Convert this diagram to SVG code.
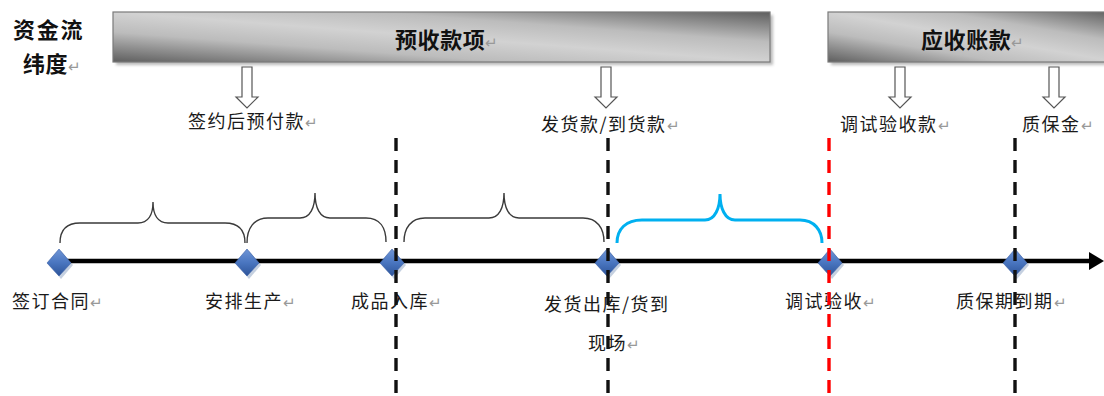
<svg xmlns="http://www.w3.org/2000/svg" width="1104" height="396" viewBox="0 0 1104 396">
<style>
.t{font-family:"Noto Sans CJK SC","Liberation Sans",sans-serif;font-size:18px;fill:#1a1a1a;letter-spacing:1.5px}
.b{font-family:"Noto Sans CJK SC","Liberation Sans",sans-serif;font-size:22px;font-weight:bold;fill:#111;letter-spacing:0.6px}
.m{fill:#999;font-weight:normal;font-size:15px;letter-spacing:0}
.box{fill:url(#g);stroke:#7a7a7a;stroke-width:1.2}
.sh{fill:#bbb;filter:url(#blur)}
.ha{fill:#fff;stroke:#555;stroke-width:1.2}
.br{fill:none;stroke:#3a3a3a;stroke-width:1.4}
.dash{stroke-width:3.4;stroke-dasharray:13 9;fill:none}
.dm{fill:url(#dg);stroke:#3d62a8;stroke-width:0.6}
</style>
<defs>
<linearGradient id="g" x1="0" y1="1" x2="1" y2="0">
<stop offset="0" stop-color="#5e5e5e"/>
<stop offset="0.3" stop-color="#bcbcbc"/>
<stop offset="0.5" stop-color="#d2d2d2"/>
<stop offset="0.7" stop-color="#bcbcbc"/>
<stop offset="1" stop-color="#5e5e5e"/>
</linearGradient>
<linearGradient id="dg" x1="0" y1="0" x2="0" y2="1">
<stop offset="0" stop-color="#6f95d6"/>
<stop offset="0.5" stop-color="#4a76c0"/>
<stop offset="1" stop-color="#2d5499"/>
</linearGradient>
<filter id="blur" x="-5%" y="-20%" width="110%" height="140%"><feGaussianBlur stdDeviation="1.5"/></filter>
</defs>
<rect width="1104" height="396" fill="#fff"/>

<g id="title">
<text class="b" x="13" y="38" style="letter-spacing:1.8px">资金流</text>
<text class="b" x="23" y="72">纬度<tspan class="m">↵</tspan></text>
</g>

<g id="box-prepaid">
<rect class="sh" x="116" y="15" width="657" height="50"/>
<rect class="box" x="113" y="12" width="657" height="50"/>
<text class="b" x="395" y="48">预收款项<tspan class="m">↵</tspan></text>
</g>
<g id="box-receivable">
<rect class="sh" x="831" y="15" width="290" height="50"/>
<rect class="box" x="828" y="12" width="290" height="50"/>
<text class="b" x="921" y="48">应收账款<tspan class="m">↵</tspan></text>
</g>

<g id="payment-labels">
<text class="t" x="188" y="128">签约后预付款<tspan class="m">↵</tspan></text>
<text class="t" x="541" y="131">发货款/到货款<tspan class="m">↵</tspan></text>
<text class="t" x="840" y="131">调试验收款<tspan class="m">↵</tspan></text>
<text class="t" x="1022" y="131">质保金<tspan class="m">↵</tspan></text>
</g>

<g id="connectors">
<path class="ha" d="M242,67 H252 V97 H258 L247,108 L236,97 H242 Z"/>
<path class="ha" d="M601,67 H611 V97 H617 L606,108 L595,97 H601 Z"/>
<path class="ha" d="M895,67 H905 V97 H911 L900,108 L889,97 H895 Z"/>
<path class="ha" d="M1049,67 H1059 V97 H1065 L1054,108 L1043,97 H1049 Z"/>

<line x1="55" y1="261" x2="1091" y2="261" stroke="#000" stroke-width="4.5"/>
<polygon points="1089,252 1104,261 1089,270" fill="#000"/>

<path class="br" d="M60,243 C60,231 66,223 80,223 L138,223 C148,223 153,215 153,202 C153,215 158,223 168,223 L225,223 C239,223 245,231 245,243"/>
<path class="br" d="M247,243 C247,228 254,218 268,218 L300,218 C310,218 315,208 315,193 C315,208 320,218 330,218 L366,218 C380,218 386,228 386,242"/>
<path class="br" d="M404,242 C404,228 411,218 425,218 L489,218 C499,218 504,208 504,193 C504,208 509,218 519,218 L583,218 C597,218 604,228 604,242"/>
<path fill="none" stroke="#00b0f0" stroke-width="3" d="M617,243 C617,229 626,220 642,220 L705,220 C715,220 720,208 720,194 C720,208 725,220 735,220 L800,220 C814,220 822,230 822,243"/>
</g>

<g id="n-sign">
<path d="M61,251 L73,265 L61,279 L49,265 Z" fill="#9fb0cc" opacity="0.6"/>
<path class="dm" d="M59,249 L71,263 L59,276 L47,263 Z"/>
<text class="t" x="12" y="308">签订合同<tspan class="m">↵</tspan></text>
</g>
<g id="n-produce">
<path d="M249,251 L261,265 L249,279 L237,265 Z" fill="#9fb0cc" opacity="0.6"/>
<path class="dm" d="M247,249 L259,263 L247,276 L235,263 Z"/>
<text class="t" x="205" y="308">安排生产<tspan class="m">↵</tspan></text>
</g>
<g id="n-stock">
<path d="M394,251 L406,265 L394,279 L382,265 Z" fill="#9fb0cc" opacity="0.6"/>
<path class="dm" d="M392,249 L404,263 L392,276 L380,263 Z"/>
<text class="t" x="351" y="308">成品入库<tspan class="m">↵</tspan></text>
</g>
<g id="n-ship">
<path d="M609,251 L621,265 L609,279 L597,265 Z" fill="#9fb0cc" opacity="0.6"/>
<path class="dm" d="M607,249 L619,263 L607,276 L595,263 Z"/>
<text class="t" x="544" y="311">发货出库/货到</text>
<text class="t" x="588" y="350">现场<tspan class="m">↵</tspan></text>
</g>
<g id="n-accept">
<path d="M832,251 L844,265 L832,279 L820,265 Z" fill="#9fb0cc" opacity="0.6"/>
<path class="dm" d="M830,249 L842,263 L830,276 L818,263 Z"/>
<text class="t" x="785" y="308">调试验收<tspan class="m">↵</tspan></text>
</g>
<g id="n-warranty">
<path d="M1017,251 L1029,265 L1017,279 L1005,265 Z" fill="#9fb0cc" opacity="0.6"/>
<path class="dm" d="M1015,249 L1027,263 L1015,276 L1003,263 Z"/>
<text class="t" x="956" y="308">质保期到期<tspan class="m">↵</tspan></text>
</g>

<g id="dividers">
<line class="dash" x1="396" y1="138" x2="396" y2="396" stroke="#111"/>
<line class="dash" x1="608" y1="138" x2="608" y2="396" stroke="#111"/>
<line class="dash" x1="829" y1="138" x2="829" y2="396" stroke="#f00"/>
<line class="dash" x1="1015" y1="138" x2="1015" y2="396" stroke="#111"/>
</g>
</svg>
